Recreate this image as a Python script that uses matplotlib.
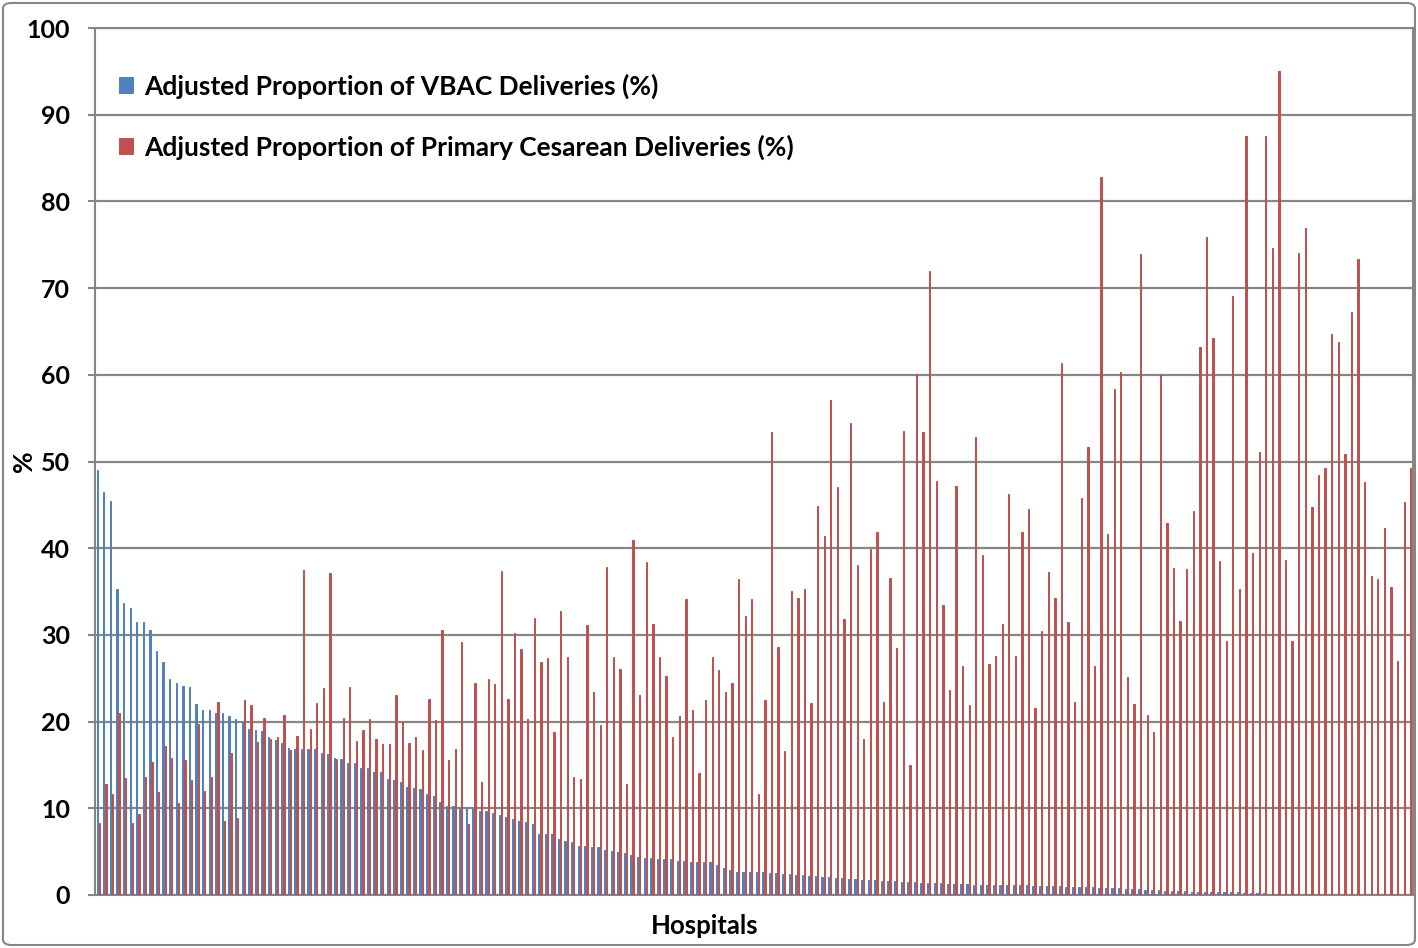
import numpy as np
import matplotlib
matplotlib.use("Agg")
import matplotlib.pyplot as plt
from matplotlib.patches import FancyBboxPatch

# adjusted proportions per hospital (%), sorted by VBAC
vbac = [
    49.0, 46.5, 45.4, 35.3, 33.7, 33.1, 31.5, 31.5, 30.6, 28.2,
    26.9, 24.9, 24.5, 24.1, 24.0, 22.0, 21.3, 21.3, 21.0, 21.0,
    20.7, 20.3, 20.0, 19.2, 19.0, 18.9, 18.2, 17.9, 17.5, 16.9,
    16.8, 16.8, 16.8, 16.8, 16.4, 16.3, 15.8, 15.7, 15.2, 15.2,
    14.7, 14.6, 14.2, 14.2, 13.4, 13.3, 13.0, 12.5, 12.3, 12.2,
    11.6, 11.4, 10.7, 10.3, 10.3, 10.2, 10.0, 10.0, 9.7, 9.7,
    9.5, 9.2, 9.0, 8.8, 8.5, 8.4, 8.2, 7.0, 7.0, 7.0,
    6.5, 6.2, 6.1, 5.7, 5.7, 5.5, 5.5, 5.2, 5.1, 5.0,
    4.8, 4.6, 4.4, 4.3, 4.3, 4.2, 4.1, 4.1, 3.9, 3.9,
    3.8, 3.8, 3.8, 3.8, 3.5, 3.1, 2.9, 2.7, 2.7, 2.7,
    2.6, 2.6, 2.5, 2.5, 2.4, 2.4, 2.3, 2.3, 2.2, 2.2,
    2.1, 2.1, 2.0, 2.0, 1.9, 1.8, 1.7, 1.7, 1.7, 1.6,
    1.6, 1.6, 1.5, 1.5, 1.5, 1.4, 1.4, 1.4, 1.4, 1.3,
    1.3, 1.3, 1.3, 1.2, 1.2, 1.2, 1.2, 1.2, 1.1, 1.1,
    1.1, 1.1, 1.0, 1.0, 1.0, 1.0, 1.0, 0.9, 0.9, 0.9,
    0.9, 0.9, 0.8, 0.8, 0.8, 0.8, 0.7, 0.7, 0.7, 0.6,
    0.6, 0.6, 0.5, 0.5, 0.5, 0.5, 0.4, 0.4, 0.4, 0.4,
    0.3, 0.3, 0.3, 0.3, 0.2, 0.2, 0.2, 0.2, 0.1, 0.1,
    0.1, 0.0, 0.0, 0.0, 0.0, 0.0, 0.0, 0.0, 0.0, 0.0,
    0.0, 0.0, 0.0, 0.0, 0.0, 0.0, 0.0, 0.0, 0.0, 0.0,
]

primary_cs = [
    8.3, 12.8, 11.6, 21.0, 13.5, 8.3, 9.3, 13.6, 15.3, 11.9,
    17.2, 15.8, 10.6, 15.6, 13.3, 19.7, 12.0, 13.6, 22.3, 8.5,
    16.4, 8.9, 22.5, 21.9, 17.6, 20.4, 18.0, 18.2, 20.8, 16.7,
    18.3, 37.5, 19.1, 22.1, 23.9, 37.1, 15.7, 20.4, 24.0, 17.8,
    19.0, 20.3, 18.0, 17.4, 17.4, 23.1, 19.9, 17.5, 18.2, 16.7,
    22.6, 20.2, 30.6, 15.6, 16.8, 29.2, 8.2, 24.4, 13.0, 24.9,
    24.3, 37.4, 22.6, 30.2, 28.4, 20.3, 32.0, 26.9, 27.3, 18.8,
    32.8, 27.5, 13.6, 13.4, 31.1, 23.4, 19.6, 37.8, 27.5, 26.1,
    12.8, 41.0, 23.1, 38.4, 31.3, 27.4, 25.3, 18.2, 20.7, 34.1,
    21.3, 14.1, 22.5, 27.4, 26.0, 23.4, 24.5, 36.4, 32.2, 34.1,
    11.7, 22.5, 53.4, 28.6, 16.6, 35.1, 34.3, 35.3, 22.1, 44.9,
    41.4, 57.1, 47.1, 31.8, 54.4, 38.1, 18.0, 39.9, 41.9, 22.3,
    36.6, 28.5, 53.5, 15.0, 60.1, 53.4, 72.0, 47.7, 33.5, 23.6,
    47.2, 26.4, 21.9, 52.8, 39.2, 26.7, 27.6, 31.3, 46.2, 27.6,
    41.9, 44.5, 21.6, 30.4, 37.2, 34.3, 61.4, 31.5, 22.3, 45.8,
    51.7, 26.4, 82.8, 41.6, 58.4, 60.3, 25.1, 22.0, 73.9, 20.8,
    18.8, 60.0, 42.9, 37.7, 31.6, 37.6, 44.3, 63.2, 75.9, 64.2,
    38.5, 29.3, 69.1, 35.3, 87.5, 39.5, 51.1, 87.5, 74.6, 95.0,
    38.6, 29.3, 74.1, 76.9, 44.8, 48.5, 49.3, 64.7, 63.8, 50.9,
    67.2, 73.3, 47.6, 36.8, 36.4, 42.3, 35.5, 27.0, 45.3, 49.3,
]

labels = ["Adjusted Proportion of VBAC Deliveries (%)",
          "Adjusted Proportion of Primary Cesarean Deliveries (%)"]

plt.rcParams["font.family"] = ["Lato", "DejaVu Sans"]
plt.rcParams["font.weight"] = "bold"

fig = plt.figure(figsize=(14.18, 9.48), dpi=100)
ax = fig.add_axes([95 / 1418, 53 / 948, 1318 / 1418, 867 / 948])

x = np.arange(len(vbac))
ax.bar(x - 0.16, vbac, width=0.2, color="#4F81BD", edgecolor="#4F81BD",
       linewidth=0.7, label=labels[0], zorder=3)
ax.bar(x + 0.16, primary_cs, width=0.2, color="#C0504D", edgecolor="#C0504D",
       linewidth=0.7, label=labels[1], zorder=3)

ax.set_xlim(-0.5, len(vbac) - 0.5)
ax.set_ylim(0, 100)
ax.set_yticks(range(0, 101, 10))
ax.set_xticks([])
ax.yaxis.grid(True, color="#868686", linewidth=1.6, zorder=0)
ax.tick_params(axis="y", labelsize=18, length=5, width=1.5, color="#868686", pad=13)
for sp in ax.spines.values():
    sp.set_color("#868686")
    sp.set_linewidth(1.5)

ax.set_ylabel("%", fontsize=19, fontweight="bold")
ax.yaxis.set_label_coords(-0.045, 0.5)
ax.set_xlabel("Hospitals", fontsize=18.5, fontweight="bold")
ax.xaxis.set_label_coords((705 - 95) / 1318, -0.022)

leg = ax.legend(loc="upper left", bbox_to_anchor=(0.0, 0.975), frameon=False,
                fontsize=19, handlelength=0.55, handleheight=0.55, handletextpad=0.4,
                labelspacing=1.35)

# chart area border
fig.patches.append(FancyBboxPatch((3 / 1418, 3 / 948), 1412 / 1418, 942 / 948,
                                  boxstyle="round,pad=0,rounding_size=0.006",
                                  transform=fig.transFigure, fill=False,
                                  edgecolor="#868686", linewidth=1.5))

fig.savefig("out.png", dpi=100)
